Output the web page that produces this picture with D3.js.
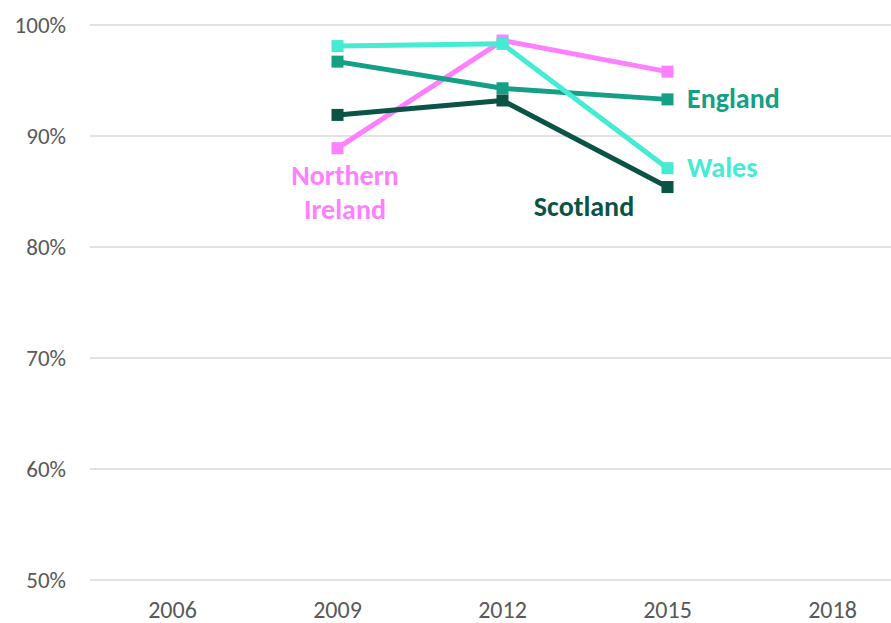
<!DOCTYPE html>
<html><head><meta charset="utf-8">
<script src="https://cdn.jsdelivr.net/npm/d3@7"></script>
<style>body{margin:0;background:#fff;overflow:hidden}</style>
</head><body><svg id="c" width="891" height="623"></svg>
<script>
const years = ["2006","2009","2012","2015","2018"];
const yTicks = [0.5,0.6,0.7,0.8,0.9,1.0];
const surveyYears = ["2009","2012","2015"];
const england = [0.967,0.943,0.933];
const wales = [0.981,0.983,0.871];
const northernIreland = [0.889,0.986,0.958];
const scotland = [0.919,0.932,0.854];
const colors = {"England":"#14a085","Wales":"#45ebd2","Northern Ireland":"#ff80ff","Scotland":"#0b5345"};

const series = [
  {name:"Northern Ireland", values:northernIreland},
  {name:"England", values:england},
  {name:"Scotland", values:scotland},
  {name:"Wales", values:wales}
];
const svg = d3.select("#c");
const x = d3.scaleBand().domain(years).range([90,915]);
const y = d3.scaleLinear().domain([0.5,1.0]).range([580,25]);
const font = "Calibri, Carlito, Lato, sans-serif";

svg.append("g").selectAll("line").data(yTicks).join("line")
  .attr("x1",90).attr("x2",891)
  .attr("y1",d=>y(d)).attr("y2",d=>y(d))
  .attr("stroke","#d9d9d9").attr("stroke-width",1.3);

svg.append("g").selectAll("text").data(yTicks).join("text")
  .attr("x",66).attr("y",d=>y(d)).attr("dy","0.35em")
  .attr("text-anchor","end").attr("font-family",font).attr("font-size",23)
  .attr("fill","#595959").text(d3.format(".0%"));

svg.append("g").selectAll("text").data(years).join("text")
  .attr("x",d=>x(d)+x.bandwidth()/2).attr("y",618)
  .attr("text-anchor","middle").attr("font-family",font).attr("font-size",24)
  .attr("fill","#595959").text(d=>d);

const line = d3.line().x((d,i)=>x(surveyYears[i])+x.bandwidth()/2).y(d=>y(d));
series.forEach(s=>{
  const g = svg.append("g");
  g.append("path").attr("d",line(s.values)).attr("fill","none")
    .attr("stroke",colors[s.name]).attr("stroke-width",5).attr("stroke-linejoin","round");
  g.selectAll("rect").data(s.values).join("rect")
    .attr("x",(d,i)=>x(surveyYears[i])+x.bandwidth()/2-6)
    .attr("y",d=>y(d)-6).attr("width",12).attr("height",12)
    .attr("fill",colors[s.name]);
});

const lab = (txt,xx,yy,c,anchor)=>svg.append("text").attr("x",xx).attr("y",yy)
  .attr("text-anchor",anchor||"start").attr("font-family",font).attr("font-weight","bold")
  .attr("font-size",28).attr("fill",c).text(txt);
lab("England",687,108,colors["England"]);
lab("Wales",687,177,colors["Wales"]);
lab("Scotland",584,216,colors["Scotland"],"middle");
lab("Northern",345,185,colors["Northern Ireland"],"middle");
lab("Ireland",345,219,colors["Northern Ireland"],"middle");
</script></body></html>
